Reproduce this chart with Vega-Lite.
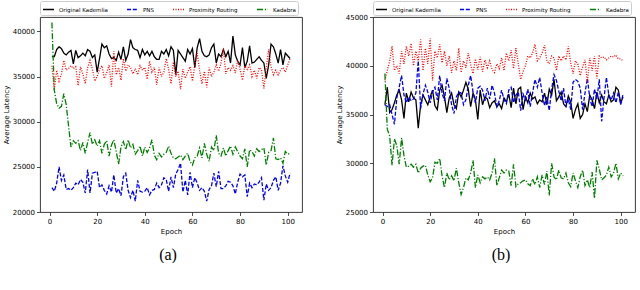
{
"$schema":"https://vega.github.io/schema/vega-lite/v6.json",
"padding":{"left":1,"top":0,"right":0,"bottom":0},
"spacing":31,
"config":{
 "font":"DejaVu Sans",
 "view":{"stroke":"#222222","strokeWidth":0.9},
 "axis":{"domain":false,"grid":false,"tickColor":"#222222","tickSize":3.5,"tickWidth":0.8,"labelFontSize":7,"labelColor":"black","titleFontSize":7,"titleFontWeight":"normal","titleColor":"black","labelPadding":2,"titlePadding":3},
 "legend":{"orient":"top","direction":"horizontal","labelFontSize":5.5,"labelColor":"black","symbolType":"stroke","symbolSize":120,"symbolStrokeWidth":1.3,"labelOffset":4,"columnPadding":16,"padding":2,"strokeColor":"#cccccc","cornerRadius":2,"offset":2.5,"fillColor":"white"},
 "title":{"font":"Liberation Serif","fontSize":16,"fontWeight":"normal","color":"black","orient":"bottom","offset":12,"anchor":"middle","frame":"group","dx":-3}
},
"datasets":{
"a":[
{"epoch":1,"Original Kademlia":37200,"PNS":22700,"Proximity Routing":36200,"Kadabra":41000},
{"epoch":2,"Original Kademlia":37200,"PNS":22300,"Proximity Routing":33500,"Kadabra":33500},
{"epoch":3,"Original Kademlia":38000,"PNS":23200,"Proximity Routing":35700,"Kadabra":32000},
{"epoch":4,"Original Kademlia":38300,"PNS":25000,"Proximity Routing":34500,"Kadabra":31500},
{"epoch":5,"Original Kademlia":38100,"PNS":23500,"Proximity Routing":35300,"Kadabra":31700},
{"epoch":6,"Original Kademlia":37600,"PNS":24100,"Proximity Routing":36800,"Kadabra":33100},
{"epoch":7,"Original Kademlia":37400,"PNS":22500,"Proximity Routing":35700,"Kadabra":31900},
{"epoch":8,"Original Kademlia":37700,"PNS":22600,"Proximity Routing":35900,"Kadabra":29500},
{"epoch":9,"Original Kademlia":37900,"PNS":22400,"Proximity Routing":36200,"Kadabra":27200},
{"epoch":10,"Original Kademlia":36400,"PNS":22700,"Proximity Routing":35900,"Kadabra":27900},
{"epoch":11,"Original Kademlia":37900,"PNS":23200,"Proximity Routing":36100,"Kadabra":27600},
{"epoch":12,"Original Kademlia":37100,"PNS":23000,"Proximity Routing":34000,"Kadabra":27900},
{"epoch":13,"Original Kademlia":37300,"PNS":23600,"Proximity Routing":36100,"Kadabra":26800},
{"epoch":14,"Original Kademlia":37600,"PNS":23300,"Proximity Routing":35300,"Kadabra":27700},
{"epoch":15,"Original Kademlia":37300,"PNS":22100,"Proximity Routing":34200,"Kadabra":26500},
{"epoch":16,"Original Kademlia":38000,"PNS":24700,"Proximity Routing":36000,"Kadabra":27700},
{"epoch":17,"Original Kademlia":37800,"PNS":22100,"Proximity Routing":36800,"Kadabra":28800},
{"epoch":18,"Original Kademlia":37100,"PNS":24300,"Proximity Routing":35800,"Kadabra":27500},
{"epoch":19,"Original Kademlia":37400,"PNS":24400,"Proximity Routing":34500,"Kadabra":28000},
{"epoch":20,"Original Kademlia":35500,"PNS":24500,"Proximity Routing":35000,"Kadabra":27300},
{"epoch":21,"Original Kademlia":37000,"PNS":22700,"Proximity Routing":35800,"Kadabra":27900},
{"epoch":22,"Original Kademlia":38600,"PNS":23000,"Proximity Routing":36200,"Kadabra":26500},
{"epoch":23,"Original Kademlia":38200,"PNS":22400,"Proximity Routing":34800,"Kadabra":27500},
{"epoch":24,"Original Kademlia":38400,"PNS":22000,"Proximity Routing":35400,"Kadabra":27900},
{"epoch":25,"Original Kademlia":37500,"PNS":22900,"Proximity Routing":36300,"Kadabra":26200},
{"epoch":26,"Original Kademlia":37000,"PNS":22200,"Proximity Routing":33900,"Kadabra":27400},
{"epoch":27,"Original Kademlia":37100,"PNS":24100,"Proximity Routing":37800,"Kadabra":28000},
{"epoch":28,"Original Kademlia":36800,"PNS":22100,"Proximity Routing":35200,"Kadabra":26700},
{"epoch":29,"Original Kademlia":37700,"PNS":22600,"Proximity Routing":36000,"Kadabra":25300},
{"epoch":30,"Original Kademlia":36900,"PNS":21800,"Proximity Routing":34600,"Kadabra":27200},
{"epoch":31,"Original Kademlia":38300,"PNS":23900,"Proximity Routing":37000,"Kadabra":27800},
{"epoch":32,"Original Kademlia":36800,"PNS":24300,"Proximity Routing":35600,"Kadabra":26900},
{"epoch":33,"Original Kademlia":37500,"PNS":22400,"Proximity Routing":36300,"Kadabra":28000},
{"epoch":34,"Original Kademlia":39100,"PNS":21600,"Proximity Routing":36000,"Kadabra":27100},
{"epoch":35,"Original Kademlia":38200,"PNS":22400,"Proximity Routing":35300,"Kadabra":27500},
{"epoch":36,"Original Kademlia":38000,"PNS":21200,"Proximity Routing":35900,"Kadabra":26400},
{"epoch":37,"Original Kademlia":37900,"PNS":23500,"Proximity Routing":35200,"Kadabra":26800},
{"epoch":38,"Original Kademlia":37100,"PNS":22300,"Proximity Routing":36200,"Kadabra":27300},
{"epoch":39,"Original Kademlia":38000,"PNS":22200,"Proximity Routing":35700,"Kadabra":26200},
{"epoch":40,"Original Kademlia":37400,"PNS":22300,"Proximity Routing":36000,"Kadabra":27200},
{"epoch":41,"Original Kademlia":37800,"PNS":22700,"Proximity Routing":34700,"Kadabra":26600},
{"epoch":42,"Original Kademlia":37300,"PNS":21900,"Proximity Routing":36700,"Kadabra":27100},
{"epoch":43,"Original Kademlia":37800,"PNS":22400,"Proximity Routing":35500,"Kadabra":28000},
{"epoch":44,"Original Kademlia":37200,"PNS":22500,"Proximity Routing":36000,"Kadabra":26300},
{"epoch":45,"Original Kademlia":36900,"PNS":23200,"Proximity Routing":34100,"Kadabra":25800},
{"epoch":46,"Original Kademlia":36900,"PNS":22700,"Proximity Routing":36000,"Kadabra":26500},
{"epoch":47,"Original Kademlia":37800,"PNS":23000,"Proximity Routing":35000,"Kadabra":26100},
{"epoch":48,"Original Kademlia":37500,"PNS":23800,"Proximity Routing":35500,"Kadabra":26400},
{"epoch":49,"Original Kademlia":38000,"PNS":23600,"Proximity Routing":37000,"Kadabra":26600},
{"epoch":50,"Original Kademlia":37300,"PNS":22300,"Proximity Routing":35800,"Kadabra":27300},
{"epoch":51,"Original Kademlia":38300,"PNS":23900,"Proximity Routing":34200,"Kadabra":26500},
{"epoch":52,"Original Kademlia":37900,"PNS":22700,"Proximity Routing":36600,"Kadabra":26000},
{"epoch":53,"Original Kademlia":35200,"PNS":24200,"Proximity Routing":35000,"Kadabra":25900},
{"epoch":54,"Original Kademlia":37900,"PNS":24700,"Proximity Routing":35600,"Kadabra":26100},
{"epoch":55,"Original Kademlia":37500,"PNS":25400,"Proximity Routing":33600,"Kadabra":26300},
{"epoch":56,"Original Kademlia":37100,"PNS":22200,"Proximity Routing":35800,"Kadabra":25800},
{"epoch":57,"Original Kademlia":36700,"PNS":23500,"Proximity Routing":34800,"Kadabra":26200},
{"epoch":58,"Original Kademlia":38000,"PNS":21900,"Proximity Routing":35500,"Kadabra":26500},
{"epoch":59,"Original Kademlia":37500,"PNS":24400,"Proximity Routing":36100,"Kadabra":25600},
{"epoch":60,"Original Kademlia":38100,"PNS":22700,"Proximity Routing":34500,"Kadabra":25200},
{"epoch":61,"Original Kademlia":36000,"PNS":23800,"Proximity Routing":36300,"Kadabra":26000},
{"epoch":62,"Original Kademlia":38200,"PNS":23200,"Proximity Routing":37600,"Kadabra":26200},
{"epoch":63,"Original Kademlia":39200,"PNS":22400,"Proximity Routing":35700,"Kadabra":27100},
{"epoch":64,"Original Kademlia":37800,"PNS":22700,"Proximity Routing":34200,"Kadabra":26000},
{"epoch":65,"Original Kademlia":37300,"PNS":22300,"Proximity Routing":35600,"Kadabra":27600},
{"epoch":66,"Original Kademlia":37200,"PNS":21200,"Proximity Routing":33800,"Kadabra":26400},
{"epoch":67,"Original Kademlia":37400,"PNS":22500,"Proximity Routing":36000,"Kadabra":25600},
{"epoch":68,"Original Kademlia":38200,"PNS":22900,"Proximity Routing":35000,"Kadabra":27200},
{"epoch":69,"Original Kademlia":38600,"PNS":24300,"Proximity Routing":35500,"Kadabra":26800},
{"epoch":70,"Original Kademlia":36500,"PNS":22800,"Proximity Routing":36300,"Kadabra":28500},
{"epoch":71,"Original Kademlia":37500,"PNS":24500,"Proximity Routing":35600,"Kadabra":26500},
{"epoch":72,"Original Kademlia":37200,"PNS":22600,"Proximity Routing":36500,"Kadabra":26200},
{"epoch":73,"Original Kademlia":38000,"PNS":22600,"Proximity Routing":38100,"Kadabra":27100},
{"epoch":74,"Original Kademlia":37200,"PNS":22900,"Proximity Routing":35300,"Kadabra":26200},
{"epoch":75,"Original Kademlia":37800,"PNS":23400,"Proximity Routing":36000,"Kadabra":26800},
{"epoch":76,"Original Kademlia":36500,"PNS":23300,"Proximity Routing":35700,"Kadabra":27300},
{"epoch":77,"Original Kademlia":39500,"PNS":22900,"Proximity Routing":36200,"Kadabra":26400},
{"epoch":78,"Original Kademlia":37400,"PNS":22000,"Proximity Routing":35400,"Kadabra":27200},
{"epoch":79,"Original Kademlia":36700,"PNS":23300,"Proximity Routing":36800,"Kadabra":26700},
{"epoch":80,"Original Kademlia":36300,"PNS":24200,"Proximity Routing":35800,"Kadabra":26200},
{"epoch":81,"Original Kademlia":38200,"PNS":23900,"Proximity Routing":34600,"Kadabra":25900},
{"epoch":82,"Original Kademlia":36000,"PNS":24100,"Proximity Routing":36200,"Kadabra":27000},
{"epoch":83,"Original Kademlia":36700,"PNS":21700,"Proximity Routing":35800,"Kadabra":25000},
{"epoch":84,"Original Kademlia":38400,"PNS":23200,"Proximity Routing":36300,"Kadabra":26900},
{"epoch":85,"Original Kademlia":36500,"PNS":22700,"Proximity Routing":35000,"Kadabra":26700},
{"epoch":86,"Original Kademlia":36600,"PNS":23100,"Proximity Routing":35700,"Kadabra":26200},
{"epoch":87,"Original Kademlia":36900,"PNS":23000,"Proximity Routing":34800,"Kadabra":27000},
{"epoch":88,"Original Kademlia":37200,"PNS":23300,"Proximity Routing":36000,"Kadabra":26700},
{"epoch":89,"Original Kademlia":36800,"PNS":23800,"Proximity Routing":35700,"Kadabra":26900},
{"epoch":90,"Original Kademlia":36500,"PNS":21300,"Proximity Routing":33700,"Kadabra":27100},
{"epoch":91,"Original Kademlia":34800,"PNS":23100,"Proximity Routing":36000,"Kadabra":25200},
{"epoch":92,"Original Kademlia":36300,"PNS":22400,"Proximity Routing":38000,"Kadabra":26600},
{"epoch":93,"Original Kademlia":38600,"PNS":22700,"Proximity Routing":36100,"Kadabra":26800},
{"epoch":94,"Original Kademlia":38300,"PNS":23500,"Proximity Routing":35200,"Kadabra":28200},
{"epoch":95,"Original Kademlia":37500,"PNS":23900,"Proximity Routing":35700,"Kadabra":25900},
{"epoch":96,"Original Kademlia":36500,"PNS":22400,"Proximity Routing":35200,"Kadabra":25800},
{"epoch":97,"Original Kademlia":38000,"PNS":23200,"Proximity Routing":35700,"Kadabra":26000},
{"epoch":98,"Original Kademlia":36300,"PNS":25100,"Proximity Routing":36000,"Kadabra":25400},
{"epoch":99,"Original Kademlia":37600,"PNS":24000,"Proximity Routing":35500,"Kadabra":26700},
{"epoch":100,"Original Kademlia":37300,"PNS":23300,"Proximity Routing":36300,"Kadabra":26400},
{"epoch":101,"Original Kademlia":37000,"PNS":24300,"Proximity Routing":37000,"Kadabra":26500}
],
"b":[
{"epoch":1,"Original Kademlia":36000,"PNS":36000,"Proximity Routing":38500,"Kadabra":39200},
{"epoch":2,"Original Kademlia":37800,"PNS":35800,"Proximity Routing":39500,"Kadabra":33500},
{"epoch":3,"Original Kademlia":35200,"PNS":36000,"Proximity Routing":40500,"Kadabra":32800},
{"epoch":4,"Original Kademlia":35500,"PNS":35000,"Proximity Routing":42000,"Kadabra":29800},
{"epoch":5,"Original Kademlia":36200,"PNS":34000,"Proximity Routing":39500,"Kadabra":32500},
{"epoch":6,"Original Kademlia":37000,"PNS":36700,"Proximity Routing":40000,"Kadabra":31800},
{"epoch":7,"Original Kademlia":37500,"PNS":37800,"Proximity Routing":39200,"Kadabra":29900},
{"epoch":8,"Original Kademlia":36500,"PNS":39000,"Proximity Routing":41500,"Kadabra":32600},
{"epoch":9,"Original Kademlia":34600,"PNS":37000,"Proximity Routing":40200,"Kadabra":30800},
{"epoch":10,"Original Kademlia":37200,"PNS":36200,"Proximity Routing":42000,"Kadabra":29600},
{"epoch":11,"Original Kademlia":36300,"PNS":36800,"Proximity Routing":41000,"Kadabra":29700},
{"epoch":12,"Original Kademlia":37300,"PNS":36400,"Proximity Routing":42300,"Kadabra":29900},
{"epoch":13,"Original Kademlia":36700,"PNS":36600,"Proximity Routing":40000,"Kadabra":29600},
{"epoch":14,"Original Kademlia":36500,"PNS":37200,"Proximity Routing":41500,"Kadabra":29900},
{"epoch":15,"Original Kademlia":33600,"PNS":40500,"Proximity Routing":40500,"Kadabra":29000},
{"epoch":16,"Original Kademlia":36000,"PNS":35600,"Proximity Routing":42700,"Kadabra":29500},
{"epoch":17,"Original Kademlia":37000,"PNS":37100,"Proximity Routing":39500,"Kadabra":29700},
{"epoch":18,"Original Kademlia":36500,"PNS":38000,"Proximity Routing":41800,"Kadabra":29800},
{"epoch":19,"Original Kademlia":36000,"PNS":37300,"Proximity Routing":40200,"Kadabra":28800},
{"epoch":20,"Original Kademlia":36800,"PNS":36200,"Proximity Routing":42800,"Kadabra":28100},
{"epoch":21,"Original Kademlia":37500,"PNS":37300,"Proximity Routing":38500,"Kadabra":28500},
{"epoch":22,"Original Kademlia":35900,"PNS":37800,"Proximity Routing":41500,"Kadabra":30100},
{"epoch":23,"Original Kademlia":35500,"PNS":36500,"Proximity Routing":40800,"Kadabra":30000},
{"epoch":24,"Original Kademlia":37500,"PNS":39000,"Proximity Routing":42200,"Kadabra":30500},
{"epoch":25,"Original Kademlia":38000,"PNS":37200,"Proximity Routing":40300,"Kadabra":28700},
{"epoch":26,"Original Kademlia":36800,"PNS":36400,"Proximity Routing":41500,"Kadabra":27500},
{"epoch":27,"Original Kademlia":35200,"PNS":38700,"Proximity Routing":40000,"Kadabra":29000},
{"epoch":28,"Original Kademlia":36700,"PNS":37700,"Proximity Routing":41000,"Kadabra":28300},
{"epoch":29,"Original Kademlia":37200,"PNS":36000,"Proximity Routing":39300,"Kadabra":28700},
{"epoch":30,"Original Kademlia":36000,"PNS":35100,"Proximity Routing":40500,"Kadabra":28200},
{"epoch":31,"Original Kademlia":35600,"PNS":36800,"Proximity Routing":39500,"Kadabra":29500},
{"epoch":32,"Original Kademlia":37300,"PNS":37300,"Proximity Routing":41800,"Kadabra":28000},
{"epoch":33,"Original Kademlia":36800,"PNS":37200,"Proximity Routing":39300,"Kadabra":26800},
{"epoch":34,"Original Kademlia":37500,"PNS":36000,"Proximity Routing":40500,"Kadabra":27500},
{"epoch":35,"Original Kademlia":38300,"PNS":36500,"Proximity Routing":39800,"Kadabra":28500},
{"epoch":36,"Original Kademlia":37600,"PNS":38000,"Proximity Routing":41300,"Kadabra":28300},
{"epoch":37,"Original Kademlia":35800,"PNS":39000,"Proximity Routing":40100,"Kadabra":29000},
{"epoch":38,"Original Kademlia":37200,"PNS":37300,"Proximity Routing":39200,"Kadabra":30300},
{"epoch":39,"Original Kademlia":36500,"PNS":36200,"Proximity Routing":40700,"Kadabra":27500},
{"epoch":40,"Original Kademlia":34500,"PNS":37700,"Proximity Routing":39600,"Kadabra":28800},
{"epoch":41,"Original Kademlia":37500,"PNS":37900,"Proximity Routing":40900,"Kadabra":28000},
{"epoch":42,"Original Kademlia":36000,"PNS":37500,"Proximity Routing":39400,"Kadabra":28600},
{"epoch":43,"Original Kademlia":36800,"PNS":36400,"Proximity Routing":40600,"Kadabra":28400},
{"epoch":44,"Original Kademlia":36600,"PNS":37700,"Proximity Routing":39800,"Kadabra":28600},
{"epoch":45,"Original Kademlia":35700,"PNS":36600,"Proximity Routing":40500,"Kadabra":28300},
{"epoch":46,"Original Kademlia":36200,"PNS":38000,"Proximity Routing":39600,"Kadabra":29000},
{"epoch":47,"Original Kademlia":36400,"PNS":37200,"Proximity Routing":39300,"Kadabra":30500},
{"epoch":48,"Original Kademlia":35800,"PNS":35800,"Proximity Routing":40200,"Kadabra":27700},
{"epoch":49,"Original Kademlia":36100,"PNS":36400,"Proximity Routing":39700,"Kadabra":28500},
{"epoch":50,"Original Kademlia":35600,"PNS":37500,"Proximity Routing":40800,"Kadabra":29300},
{"epoch":51,"Original Kademlia":36700,"PNS":36500,"Proximity Routing":39500,"Kadabra":29000},
{"epoch":52,"Original Kademlia":36300,"PNS":36100,"Proximity Routing":41300,"Kadabra":29300},
{"epoch":53,"Original Kademlia":37100,"PNS":37500,"Proximity Routing":40500,"Kadabra":29200},
{"epoch":54,"Original Kademlia":35700,"PNS":37800,"Proximity Routing":41600,"Kadabra":27700},
{"epoch":55,"Original Kademlia":37700,"PNS":36200,"Proximity Routing":39700,"Kadabra":29900},
{"epoch":56,"Original Kademlia":36100,"PNS":37000,"Proximity Routing":41800,"Kadabra":27600},
{"epoch":57,"Original Kademlia":37600,"PNS":37300,"Proximity Routing":40200,"Kadabra":27900},
{"epoch":58,"Original Kademlia":37800,"PNS":35400,"Proximity Routing":38600,"Kadabra":28000},
{"epoch":59,"Original Kademlia":35500,"PNS":37100,"Proximity Routing":39400,"Kadabra":28200},
{"epoch":60,"Original Kademlia":36800,"PNS":36500,"Proximity Routing":40000,"Kadabra":28300},
{"epoch":61,"Original Kademlia":36200,"PNS":37600,"Proximity Routing":41000,"Kadabra":27900},
{"epoch":62,"Original Kademlia":37200,"PNS":35800,"Proximity Routing":40800,"Kadabra":27700},
{"epoch":63,"Original Kademlia":36600,"PNS":37200,"Proximity Routing":41300,"Kadabra":28400},
{"epoch":64,"Original Kademlia":36800,"PNS":38600,"Proximity Routing":42200,"Kadabra":27800},
{"epoch":65,"Original Kademlia":36100,"PNS":37800,"Proximity Routing":40500,"Kadabra":28600},
{"epoch":66,"Original Kademlia":36500,"PNS":38800,"Proximity Routing":40800,"Kadabra":27500},
{"epoch":67,"Original Kademlia":36300,"PNS":37200,"Proximity Routing":41300,"Kadabra":28800},
{"epoch":68,"Original Kademlia":37200,"PNS":35900,"Proximity Routing":42100,"Kadabra":27800},
{"epoch":69,"Original Kademlia":36000,"PNS":36800,"Proximity Routing":40500,"Kadabra":29200},
{"epoch":70,"Original Kademlia":37600,"PNS":35400,"Proximity Routing":40200,"Kadabra":26700},
{"epoch":71,"Original Kademlia":37000,"PNS":37600,"Proximity Routing":41000,"Kadabra":30000},
{"epoch":72,"Original Kademlia":38600,"PNS":39100,"Proximity Routing":40800,"Kadabra":28600},
{"epoch":73,"Original Kademlia":36400,"PNS":38500,"Proximity Routing":39500,"Kadabra":28300},
{"epoch":74,"Original Kademlia":36800,"PNS":37400,"Proximity Routing":41000,"Kadabra":29300},
{"epoch":75,"Original Kademlia":37300,"PNS":36400,"Proximity Routing":40500,"Kadabra":28500},
{"epoch":76,"Original Kademlia":36100,"PNS":37700,"Proximity Routing":41000,"Kadabra":28400},
{"epoch":77,"Original Kademlia":35800,"PNS":35800,"Proximity Routing":40600,"Kadabra":29000},
{"epoch":78,"Original Kademlia":36900,"PNS":36600,"Proximity Routing":42000,"Kadabra":28000},
{"epoch":79,"Original Kademlia":36300,"PNS":35500,"Proximity Routing":40300,"Kadabra":27600},
{"epoch":80,"Original Kademlia":34600,"PNS":38300,"Proximity Routing":39200,"Kadabra":29000},
{"epoch":81,"Original Kademlia":35500,"PNS":38600,"Proximity Routing":40500,"Kadabra":28200},
{"epoch":82,"Original Kademlia":36100,"PNS":38400,"Proximity Routing":40200,"Kadabra":27500},
{"epoch":83,"Original Kademlia":34600,"PNS":37700,"Proximity Routing":39000,"Kadabra":28600},
{"epoch":84,"Original Kademlia":35000,"PNS":35500,"Proximity Routing":39900,"Kadabra":29300},
{"epoch":85,"Original Kademlia":36100,"PNS":37200,"Proximity Routing":40600,"Kadabra":27700},
{"epoch":86,"Original Kademlia":35300,"PNS":38700,"Proximity Routing":38300,"Kadabra":28300},
{"epoch":87,"Original Kademlia":37000,"PNS":36700,"Proximity Routing":40800,"Kadabra":27500},
{"epoch":88,"Original Kademlia":36500,"PNS":35800,"Proximity Routing":39500,"Kadabra":29100},
{"epoch":89,"Original Kademlia":35600,"PNS":37600,"Proximity Routing":41000,"Kadabra":26400},
{"epoch":90,"Original Kademlia":37300,"PNS":36600,"Proximity Routing":38700,"Kadabra":30300},
{"epoch":91,"Original Kademlia":36200,"PNS":38600,"Proximity Routing":41000,"Kadabra":29400},
{"epoch":92,"Original Kademlia":37000,"PNS":34300,"Proximity Routing":40800,"Kadabra":28300},
{"epoch":93,"Original Kademlia":36300,"PNS":36700,"Proximity Routing":40900,"Kadabra":28500},
{"epoch":94,"Original Kademlia":36100,"PNS":38800,"Proximity Routing":40600,"Kadabra":28800},
{"epoch":95,"Original Kademlia":37000,"PNS":37000,"Proximity Routing":40800,"Kadabra":29600},
{"epoch":96,"Original Kademlia":36300,"PNS":36500,"Proximity Routing":41000,"Kadabra":28600},
{"epoch":97,"Original Kademlia":36500,"PNS":37200,"Proximity Routing":40900,"Kadabra":29000},
{"epoch":98,"Original Kademlia":37800,"PNS":36200,"Proximity Routing":41100,"Kadabra":30000},
{"epoch":99,"Original Kademlia":37500,"PNS":37300,"Proximity Routing":40700,"Kadabra":28400},
{"epoch":100,"Original Kademlia":36200,"PNS":36000,"Proximity Routing":40700,"Kadabra":29000},
{"epoch":101,"Original Kademlia":36800,"PNS":37100,"Proximity Routing":40500,"Kadabra":28700}
]
},
"resolve":{"scale":{"color":"independent","strokeDash":"independent","y":"independent","x":"independent"},"legend":{"color":"independent","strokeDash":"independent"}},
"hconcat":[
{
 "width":262,"height":195,
 "data":{"name":"a"},
 "transform":[{"fold":["Original Kademlia","PNS","Proximity Routing","Kadabra"],"as":["series","value"]}],
 "title":{"text":"(a)"},
 "mark":{"type":"line","strokeWidth":1.3},
 "encoding":{
  "x":{"field":"epoch","type":"quantitative","scale":{"domain":[-4,106],"nice":false,"zero":false},"axis":{"values":[0,20,40,60,80,100],"title":"Epoch"}},
  "y":{"field":"value","type":"quantitative","scale":{"domain":[20000,41600],"nice":false,"zero":false},"axis":{"values":[20000,25000,30000,35000,40000],"format":"d","title":"Average Latency"}},
  "color":{"field":"series","type":"nominal","title":null,"scale":{"domain":["Original Kademlia","PNS","Proximity Routing","Kadabra"],"range":["#000000","#0000ff","#ff0000","#008000"]}},
  "strokeDash":{"field":"series","type":"nominal","title":null,"scale":{"domain":["Original Kademlia","PNS","Proximity Routing","Kadabra"],"range":[[1,0],[4,1.8],[1,1.5],[6,1.8,1.2,1.8]]}}
 }
},
{
 "width":262,"height":195,
 "data":{"name":"b"},
 "transform":[{"fold":["Original Kademlia","PNS","Proximity Routing","Kadabra"],"as":["series","value"]}],
 "title":{"text":"(b)"},
 "mark":{"type":"line","strokeWidth":1.3},
 "encoding":{
  "x":{"field":"epoch","type":"quantitative","scale":{"domain":[-4,106],"nice":false,"zero":false},"axis":{"values":[0,20,40,60,80,100],"title":"Epoch"}},
  "y":{"field":"value","type":"quantitative","scale":{"domain":[25000,45000],"nice":false,"zero":false},"axis":{"values":[25000,30000,35000,40000,45000],"format":"d","title":"Average Latency"}},
  "color":{"field":"series","type":"nominal","title":null,"scale":{"domain":["Original Kademlia","PNS","Proximity Routing","Kadabra"],"range":["#000000","#0000ff","#ff0000","#008000"]}},
  "strokeDash":{"field":"series","type":"nominal","title":null,"scale":{"domain":["Original Kademlia","PNS","Proximity Routing","Kadabra"],"range":[[1,0],[4,1.8],[1,1.5],[6,1.8,1.2,1.8]]}}
 }
}
]
}
